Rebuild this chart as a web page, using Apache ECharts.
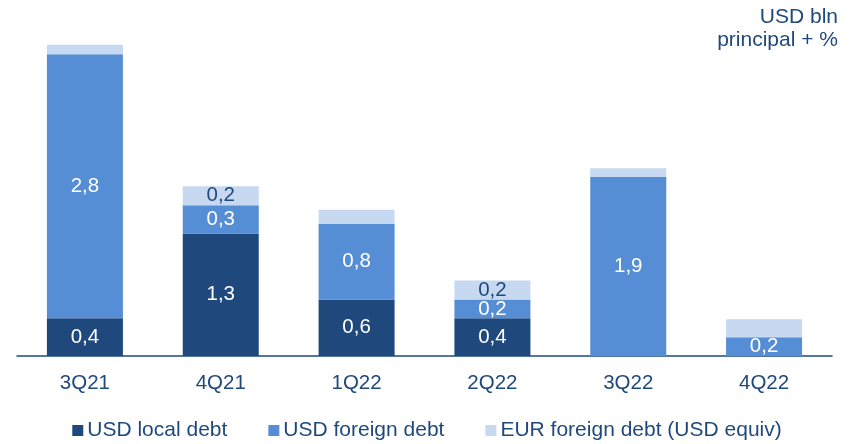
<!DOCTYPE html>
<html>
<head>
<meta charset="utf-8">
<script src="https://cdn.jsdelivr.net/npm/echarts@6/dist/echarts.min.js"></script>
<style>
  html, body { margin: 0; padding: 0; background: #ffffff; }
  #chart { width: 854px; height: 444px; }
</style>
</head>
<body>
<div id="chart"></div>
<script>
// Quarterly debt repayments, USD bln
const quarters = ['3Q21', '4Q21', '1Q22', '2Q22', '3Q22', '4Q22'];
const usdLocal = [0.4, 1.3, 0.6, 0.4, 0, 0];
const usdForeign = [2.8, 0.3, 0.8, 0.2, 1.9, 0.2];
const eurForeign = [0.1, 0.2, 0.15, 0.2, 0.09, 0.19];
const eurLabelled = [false, true, false, true, false, false];
const seriesNames = ['USD local debt', 'USD foreign debt', 'EUR foreign debt (USD equiv)'];
const unitNote = 'USD bln\nprincipal + %';

const FONT = '"Liberation Sans", Arial, sans-serif';
const TEXT = '#1F497D';
const COLORS = ['#1F497D', '#558ED5', '#C6D9F1'];

const fmt = v => v.toFixed(1).replace('.', ',');

function makeSeries(idx, values, labelColor, showFlags) {
  return {
    name: seriesNames[idx],
    type: 'bar',
    stack: 'debt',
    barWidth: 76,
    itemStyle: { color: COLORS[idx] },
    emphasis: { disabled: true },
    data: values.map((v, i) => ({
      value: v,
      label: { show: v > 0 && (!showFlags || showFlags[i]) }
    })),
    label: {
      position: 'inside',
      color: labelColor,
      fontFamily: FONT,
      fontSize: 20.5,
      formatter: p => fmt(p.value)
    }
  };
}

const chart = echarts.init(document.getElementById('chart'), null, { renderer: 'canvas' });
chart.setOption({
  animation: false,
  backgroundColor: '#ffffff',
  grid: { left: 17, right: 22, top: 26, bottom: 88, containLabel: false },
  xAxis: {
    type: 'category',
    data: quarters,
    axisLine: { show: true, lineStyle: { color: '#1F497D', width: 1.5 } },
    axisTick: { show: false },
    axisLabel: { color: TEXT, fontFamily: FONT, fontSize: 20.5, margin: 17 }
  },
  yAxis: {
    type: 'value',
    min: 0,
    max: 3.5,
    show: false,
    splitLine: { show: false }
  },
  legend: {
    data: seriesNames,
    top: 415,
    left: 'center',
    icon: 'rect',
    itemWidth: 11,
    itemHeight: 11,
    itemGap: 41,
    textStyle: { color: TEXT, fontFamily: FONT, fontSize: 21, padding: [0, 0, 0, -1] }
  },
  graphic: [{
    type: 'text',
    style: {
      text: unitNote,
      x: 838,
      y: 6,
      textAlign: 'right',
      textVerticalAlign: 'top',
      fill: TEXT,
      font: '21px ' + FONT,
      lineHeight: 23
    }
  }],
  series: [
    makeSeries(0, usdLocal, '#ffffff'),
    makeSeries(1, usdForeign, '#ffffff'),
    makeSeries(2, eurForeign, TEXT, eurLabelled)
  ]
});
</script>
</body>
</html>
